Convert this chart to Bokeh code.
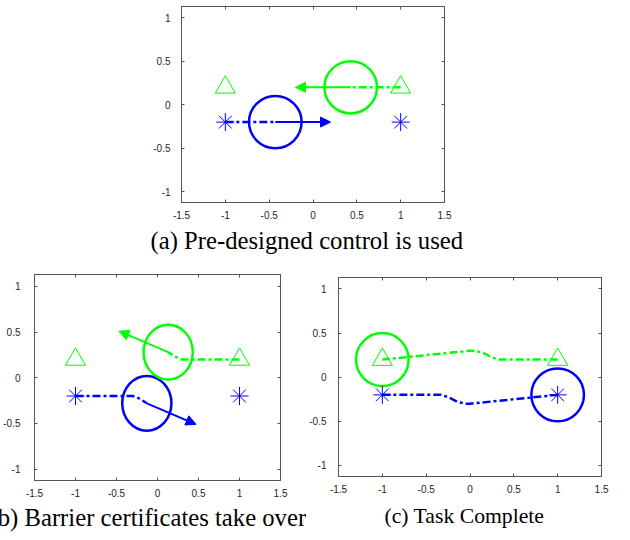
from bokeh.plotting import figure
from bokeh.models import (Range1d, FixedTicker, LinearAxis, ColumnDataSource,
                          Arrow, NormalHead)
from bokeh.layouts import column, row
from bokeh.embed import file_html
from bokeh.resources import INLINE

# ---------------- data ----------------
x_ticks = [-1.5, -1, -0.5, 0, 0.5, 1, 1.5]
x_tick_labels = ["-1.5", "-1", "-0.5", "0", "0.5", "1", "1.5"]
y_ticks = [-1, -0.5, 0, 0.5, 1]
y_tick_labels = ["-1", "-0.5", "0", "0.5", "1"]

goal_x = [-1, 1]
triangle_y = [0.2, 0.2]
star_y = [-0.2, -0.2]
robot_radius = 0.3

captions = ["(a) Pre-designed control is used",
            "(b) Barrier certificates take over",
            "(c) Task Complete"]

# panel (a)
a_blue_path_x = [-1, -0.43]
a_blue_path_y = [-0.2, -0.2]
a_green_path_x = [1, 0.43]
a_green_path_y = [0.2, 0.2]
a_robot_x = [-0.43, 0.43]
a_robot_y = [-0.2, 0.2]
a_arrow_x0 = [-0.43, 0.43]
a_arrow_y0 = [-0.2, 0.2]
a_arrow_x1 = [0.2, -0.2]
a_arrow_y1 = [-0.2, 0.2]

# panel (b)
b_blue_path_x = [-1, -0.3, -0.25, -0.2, -0.13]
b_blue_path_y = [-0.2, -0.2, -0.215, -0.24, -0.28]
b_green_path_x = [1, 0.3, 0.25, 0.2, 0.13]
b_green_path_y = [0.2, 0.2, 0.215, 0.24, 0.28]
b_robot_x = [-0.13, 0.13]
b_robot_y = [-0.28, 0.28]
b_arrow_x0 = [-0.13, 0.13]
b_arrow_y0 = [-0.28, 0.28]
b_arrow_x1 = [0.47, -0.47]
b_arrow_y1 = [-0.51, 0.51]

# panel (c)
c_blue_path_x = [-1, -0.33, -0.25, -0.14, -0.05, 0, 0.5, 1]
c_blue_path_y = [-0.2, -0.2, -0.225, -0.28, -0.3, -0.3, -0.25, -0.2]
c_green_path_x = [1, 0.33, 0.25, 0.14, 0.05, 0, -0.5, -1]
c_green_path_y = [0.2, 0.2, 0.225, 0.28, 0.3, 0.3, 0.25, 0.2]
c_robot_x = [1, -1]
c_robot_y = [-0.2, 0.2]

# ---------------- style ----------------
BLUE = "#0000ff"
GREEN = "#00ff00"
AXIS_COLOR = "#555555"
LABEL_COLOR = "#262626"
TICK_FONT = "Liberation Sans"
CAP_FONT = "Liberation Serif"


def _style(ax, show_labels, standoff):
    ax.axis_line_color = AXIS_COLOR
    ax.axis_line_width = 1
    ax.major_tick_line_color = AXIS_COLOR
    ax.major_tick_in = 3
    ax.major_tick_out = 0
    ax.minor_tick_line_color = None
    ax.major_label_text_font = TICK_FONT
    ax.major_label_text_color = LABEL_COLOR
    if show_labels:
        ax.major_label_text_font_size = "10px"
        ax.major_label_standoff = standoff
    else:
        ax.major_label_text_font_size = "0px"
        ax.major_label_standoff = 0
        ax.major_label_text_alpha = 0


def make_panel(w, h, bl, br, bt, bb, caption, cap_size, cap_offset,
               cap_standoff, xstand, ystand):
    p = figure(width=w, height=h, min_border_left=bl, min_border_right=br,
               min_border_top=bt, min_border_bottom=bb,
               x_range=Range1d(-1.5, 1.5), y_range=Range1d(-1.125, 1.13),
               output_backend="svg", toolbar_location=None,
               title=caption, title_location="below")
    p.xgrid.visible = False
    p.ygrid.visible = False
    p.outline_line_color = AXIS_COLOR
    p.background_fill_color = "white"
    p.border_fill_color = "white"
    p.title.align = "left"
    p.title.offset = cap_offset
    p.title.standoff = cap_standoff
    p.title.text_font = CAP_FONT
    p.title.text_font_style = "normal"
    p.title.text_font_size = cap_size
    p.title.text_color = "black"

    for ax, ticks, labels, stand in ((p.xaxis[0], x_ticks, x_tick_labels, xstand),
                                     (p.yaxis[0], y_ticks, y_tick_labels, ystand)):
        ax.ticker = FixedTicker(ticks=ticks)
        ax.major_label_overrides = {t: l for t, l in zip(ticks, labels)}
        _style(ax, True, stand)
    top = LinearAxis(ticker=FixedTicker(ticks=x_ticks))
    right = LinearAxis(ticker=FixedTicker(ticks=y_ticks))
    _style(top, False, 0)
    _style(right, False, 0)
    p.add_layout(top, "above")
    p.add_layout(right, "right")
    return p


def draw_scene(p, bpx, bpy, gpx, gpy, rx, ry, arrows=None):
    dash = "8 3 3 3"
    p.line(bpx, bpy, line_color=BLUE, line_width=2.5, line_dash=dash)
    p.line(gpx, gpy, line_color=GREEN, line_width=2.5, line_dash=dash)
    p.ellipse(x=rx, y=ry, width=2 * robot_radius, height=2 * robot_radius,
              fill_color=None, line_color=[BLUE, GREEN], line_width=2.5)
    if arrows is not None:
        x0, y0, x1, y1 = arrows
        for i, col in enumerate([BLUE, GREEN]):
            src = ColumnDataSource(dict(x0=[x0[i]], y0=[y0[i]], x1=[x1[i]], y1=[y1[i]]))
            p.add_layout(Arrow(x_start="x0", y_start="y0", x_end="x1", y_end="y1",
                               source=src, line_color=col, line_width=2,
                               end=NormalHead(size=10, fill_color=col, line_color=col,
                                              line_width=1)))
    p.scatter(goal_x, triangle_y, marker="triangle", size=20, fill_color=None,
              line_color=GREEN, line_width=1)
    p.scatter(goal_x, star_y, marker="asterisk", size=18, fill_color=None,
              line_color=BLUE, line_width=1)


pa = make_panel(340, 264, 45, 32, 1, 67, captions[0], "24.7px", -31, 6, 8, 11)
draw_scene(pa, a_blue_path_x, a_blue_path_y, a_green_path_x, a_green_path_y,
           a_robot_x, a_robot_y, (a_arrow_x0, a_arrow_y0, a_arrow_x1, a_arrow_y1))
pa.margin = (5, 0, 0, 136)

# panels in one row share top/bottom borders: both use 5 / 60
pb = make_panel(306, 271, 34, 26, 5, 60, captions[1], "24.7px", -45, 5, 8, 14)
draw_scene(pb, b_blue_path_x, b_blue_path_y, b_green_path_x, b_green_path_y,
           b_robot_x, b_robot_y, (b_arrow_x0, b_arrow_y0, b_arrow_x1, b_arrow_y1))

pc = make_panel(305, 264, 30, 10, 5, 60, captions[2], "21.7px", 46, 13, 8, 12)
draw_scene(pc, c_blue_path_x, c_blue_path_y, c_green_path_x, c_green_path_y,
           c_robot_x, c_robot_y)
pc.margin = (3, 0, 0, 0)

layout = column(pa, row(pb, pc))

open("out.html", "w").write(file_html(layout, INLINE))
